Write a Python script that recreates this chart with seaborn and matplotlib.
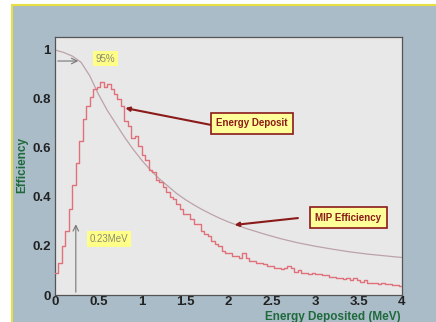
import numpy as np
import pandas as pd
import matplotlib
matplotlib.use("Agg")
import matplotlib.pyplot as plt
import seaborn as sns
from matplotlib.patches import Rectangle
from matplotlib.ticker import MultipleLocator

# ---------------- data ----------------
bin_width = 0.04
deposit_values = [
    0.09, 0.13, 0.20, 0.26, 0.35, 0.45, 0.54, 0.63, 0.72, 0.77,
    0.81, 0.84, 0.85, 0.87, 0.85, 0.86, 0.84, 0.82, 0.80, 0.77,
    0.71, 0.69, 0.64, 0.65, 0.61, 0.57, 0.55, 0.51, 0.50, 0.47,
    0.46, 0.44, 0.42, 0.40, 0.39, 0.37, 0.35, 0.33, 0.33, 0.31,
    0.29, 0.29, 0.26, 0.25, 0.24, 0.22, 0.21, 0.20, 0.18, 0.17,
    0.17, 0.16, 0.16, 0.15, 0.17, 0.15, 0.14, 0.14, 0.13, 0.13,
    0.125, 0.12, 0.12, 0.11, 0.11, 0.105, 0.11, 0.12, 0.11, 0.095,
    0.10, 0.09, 0.09, 0.085, 0.09, 0.085, 0.085, 0.08, 0.08, 0.075,
    0.075, 0.07, 0.07, 0.065, 0.07, 0.06, 0.07, 0.06, 0.055, 0.06,
    0.05, 0.05, 0.05, 0.045, 0.05, 0.045, 0.045, 0.04, 0.04, 0.035,
]
mip_energy = [0.0, 0.1, 0.2, 0.3, 0.4, 0.5, 0.6, 0.7, 0.8, 0.9, 1.0, 1.1, 1.2,
              1.3, 1.4, 1.5, 1.6, 1.7, 1.8, 1.9, 2.0, 2.2, 2.4, 2.6, 2.8, 3.0,
              3.2, 3.4, 3.6, 3.8, 4.0]
mip_eff = [1.0, 0.99, 0.975, 0.95, 0.895, 0.82, 0.755, 0.70, 0.645, 0.595,
           0.55, 0.51, 0.475, 0.445, 0.415, 0.39, 0.368, 0.348, 0.33, 0.313,
           0.298, 0.272, 0.25, 0.23, 0.213, 0.199, 0.187, 0.176, 0.167,
           0.16, 0.153]
x_ticks = [0, 0.5, 1, 1.5, 2, 2.5, 3, 3.5, 4]
x_tick_labels = ["0", "0.5", "1", "1.5", "2", "2.5", "3", "3.5", "4"]
y_ticks = [0, 0.2, 0.4, 0.6, 0.8, 1.0]
y_tick_labels = ["0", "0.2", "0.4", "0.6", "0.8", "1"]

n_bins = len(deposit_values)
centers = [(i + 0.5) * bin_width for i in range(n_bins)]
hist_df = pd.DataFrame({"energy": centers, "weight": deposit_values})
mip_df = pd.DataFrame({"energy": mip_energy, "eff": mip_eff})

# ---------------- figure ----------------
sns.set_style("white")
plt.rcParams["font.family"] = ["Liberation Sans", "DejaVu Sans"]

fig = plt.figure(figsize=(4.36, 3.22), dpi=100)
fig.patch.set_facecolor("white")
# outer blue-gray panel with yellow border on the left/top
bg = Rectangle((12 / 436, 0), 1 - 12 / 436, 1 - 5 / 322, transform=fig.transFigure,
               facecolor="#a9bcc8", edgecolor="none", zorder=-10)
fig.patches.append(bg)
fig.add_artist(plt.Line2D([12 / 436, 12 / 436], [0, 1 - 5 / 322], color="#e8e040",
                          lw=1.5, transform=fig.transFigure, zorder=-9))
fig.add_artist(plt.Line2D([12 / 436, 1], [1 - 5 / 322, 1 - 5 / 322], color="#e8e040",
                          lw=1.5, transform=fig.transFigure, zorder=-9))

ax = fig.add_axes([55 / 436, 27 / 322, 347 / 436, 258 / 322])
ax.set_zorder(5)
ax.set_facecolor("#e8e8e8")

sns.lineplot(data=mip_df, x="energy", y="eff", ax=ax, color="#bca2aa", lw=0.9,
             zorder=2)
sns.histplot(data=hist_df, x="energy", weights="weight", binwidth=bin_width,
             binrange=(0, n_bins * bin_width),
             element="step", fill=False, color="#e0707a", lw=1.0, ax=ax,
             zorder=3)

ax.set_xlim(0, 4)
ax.set_ylim(0, 1.053)
ax.set_xticks(x_ticks)
ax.set_xticklabels(x_tick_labels)
ax.set_yticks(y_ticks)
ax.set_yticklabels(y_tick_labels)
ax.xaxis.set_minor_locator(MultipleLocator(0.1))
ax.yaxis.set_minor_locator(MultipleLocator(0.05))
ax.tick_params(which="both", direction="in", top=False, right=False,
               colors="#555555", labelcolor="#222222")
ax.tick_params(which="major", length=8, width=0.8, labelsize=9.5)
ax.tick_params(axis="x", which="major", pad=1)
ax.tick_params(axis="y", which="major", pad=3)
ax.tick_params(which="minor", length=4, width=0.6)
for lab in ax.get_xticklabels() + ax.get_yticklabels():
    lab.set_fontweight("bold")
for s in ax.spines.values():
    s.set_color("#555555")
    s.set_linewidth(0.9)

ax.set_xlabel("")
ax.set_ylabel("")
fig.text(401 / 436, 1 - 317 / 322, "Energy Deposited (MeV)", ha="right", va="center",
         fontsize=8.5, fontweight="bold", color="#1f6a3c")
fig.text(22 / 436, 1 - 165 / 322, "Efficiency", ha="center", va="center",
         rotation=90, fontsize=8.5, fontweight="bold", color="#1f6a3c")

# annotations
gray = "#777777"
ax.annotate("", xy=(0.30, 0.955), xytext=(0.0, 0.955),
            arrowprops=dict(arrowstyle="->", color=gray, lw=0.8))
ax.annotate("", xy=(0.24, 0.30), xytext=(0.24, 0.0),
            arrowprops=dict(arrowstyle="->", color=gray, lw=0.8))
ax.text(0.58, 0.965, "95%", ha="center", va="center", fontsize=7, color="#8a8a70",
        bbox=dict(boxstyle="square,pad=0.3", fc="#ffff88", ec="none"))
ax.text(0.62, 0.227, "0.23MeV", ha="center", va="center", fontsize=7,
        color="#8a8a70",
        bbox=dict(boxstyle="square,pad=0.3", fc="#ffff88", ec="none"))

red = "#8b1a1a"
ax.annotate("", xy=(0.81, 0.763), xytext=(1.80, 0.694),
            arrowprops=dict(arrowstyle="-|>", color=red, lw=1.5,
                            mutation_scale=6, shrinkA=0, shrinkB=0))
ax.annotate("", xy=(2.07, 0.286), xytext=(2.80, 0.314),
            arrowprops=dict(arrowstyle="-|>", color=red, lw=1.5,
                            mutation_scale=6, shrinkA=0, shrinkB=0))
ax.text(2.27, 0.70, "Energy Deposit", ha="center", va="center", fontsize=7,
        fontweight="bold", color=red, zorder=5,
        bbox=dict(boxstyle="square,pad=0.55", fc="#ffff99", ec=red, lw=1.2))
ax.text(3.38, 0.315, "MIP Efficiency", ha="center", va="center", fontsize=7,
        fontweight="bold", color=red, zorder=5,
        bbox=dict(boxstyle="square,pad=0.55", fc="#ffff99", ec=red, lw=1.2))

fig.savefig("out.png", dpi=100, facecolor=fig.get_facecolor())
